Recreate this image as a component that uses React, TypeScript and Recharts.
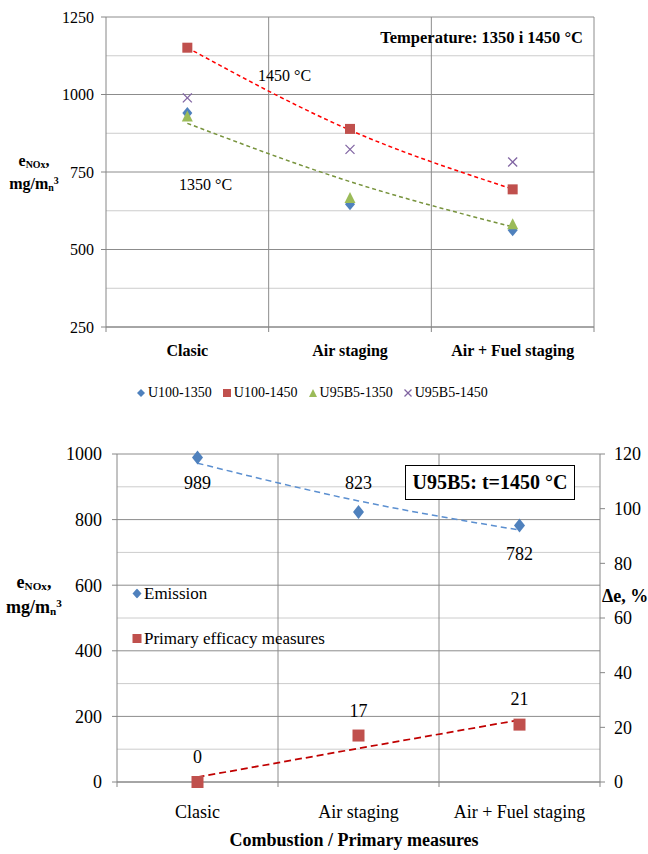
import React from "react";
import { ComposedChart, Line, XAxis, YAxis, CartesianGrid } from "recharts";

// categories and measured values
const CATEGORIES = ["Clasic", "Air staging", "Air + Fuel staging"];

// top chart: NOx emission, mg/mn3
const U100_1350 = [940, 646, 562];
const U100_1450 = [1151, 889, 694];
const U95B5_1350 = [931, 668, 583];
const U95B5_1450 = [989, 823, 782];
const TREND_1450 = [1151, 885, 695];
const TREND_1350 = [907, 719, 573];

// bottom chart: U95B5 at 1450 °C
const EMISSION = [989, 823, 782];
const EFFICACY = [0, 17, 21];
const EMISSION_TREND = [972, 857, 768];
const EFFICACY_TREND = [1.8, 12.3, 22.7];

const TOP_TICKS = [250, 500, 750, 1000, 1250];
const TOP_MINOR = [375, 625, 875, 1125];
const LEFT_TICKS = [0, 200, 400, 600, 800, 1000];
const LEFT_MINOR = [100, 300, 500, 700, 900];
const RIGHT_TICKS = [0, 20, 40, 60, 80, 100, 120];

const FONT = '"Liberation Serif", "Times New Roman", serif';
const AXIS = "#868686";
const GRID_MAJOR = "#8c8c8c";
const GRID_MINOR = "#cccccc";
const BLUE = "#4F81BD";
const RED = "#C0504D";
const GREEN = "#9BBB59";
const PURPLE = "#8064A2";

const X_TICKS = [0, 0.5, 1, 1.5, 2, 2.5, 3];

const topRows = CATEGORIES.map((c, i) => ({
  x: i + 0.5,
  u100_1350: U100_1350[i],
  u100_1450: U100_1450[i],
  u95_1350: U95B5_1350[i],
  u95_1450: U95B5_1450[i],
  t1450: TREND_1450[i],
  t1350: TREND_1350[i],
}));

const bottomRows = CATEGORIES.map((c, i) => ({
  x: i + 0.5,
  emission: EMISSION[i],
  efficacy: EFFICACY[i],
  emTrend: EMISSION_TREND[i],
  efTrend: EFFICACY_TREND[i],
}));

// label offsets (px) for the bottom data labels
const EMISSION_LABEL_DY = [25, -29, 28];
const EFFICACY_LABEL_DY = [-25, -25, -26];

const Diamond = ({ cx, cy, w = 10, h = 12, fill }: any) => (
  <path
    d={`M${cx},${cy - h / 2} L${cx + w / 2},${cy} L${cx},${cy + h / 2} L${cx - w / 2},${cy} Z`}
    fill={fill}
  />
);
const Square = ({ cx, cy, s = 10, fill }: any) => (
  <rect x={cx - s / 2} y={cy - s / 2} width={s} height={s} fill={fill} />
);
const Triangle = ({ cx, cy, s = 11, fill }: any) => (
  <path
    d={`M${cx},${cy - s / 2} L${cx + s / 2},${cy + s / 2} L${cx - s / 2},${cy + s / 2} Z`}
    fill={fill}
  />
);
const XMark = ({ cx, cy, s = 9, stroke }: any) => (
  <g stroke={stroke} strokeWidth={1.3}>
    <line x1={cx - s / 2} y1={cy - s / 2} x2={cx + s / 2} y2={cy + s / 2} />
    <line x1={cx - s / 2} y1={cy + s / 2} x2={cx + s / 2} y2={cy - s / 2} />
  </g>
);

const CatTick = (props: any) => {
  const { x, y, payload, bold, dy, fontSize } = props;
  const v = payload.value;
  if (Number.isInteger(v)) {
    return <line x1={x} x2={x} y1={y} y2={y + 5} stroke={AXIS} />;
  }
  return (
    <text
      x={x}
      y={y + dy}
      textAnchor="middle"
      dominantBaseline="central"
      fontFamily={FONT}
      fontSize={fontSize}
      fontWeight={bold ? 700 : 400}
      fill="#000"
    >
      {CATEGORIES[Math.floor(v)]}
    </text>
  );
};

const Label = ({ x, y, align = "left", style, children }: any) => {
  const tx = align === "center" ? "-50%" : align === "right" ? "-100%" : "0";
  return (
    <div
      style={{
        position: "absolute",
        left: x,
        top: y,
        transform: `translate(${tx}, -50%)`,
        whiteSpace: "nowrap",
        lineHeight: 1,
        fontFamily: FONT,
        color: "#000",
        ...style,
      }}
    >
      {children}
    </div>
  );
};

const AxisTitle = ({ x, y1, y2, size }: any) => {
  const sub = { fontSize: size * 0.62, verticalAlign: "-0.2em", lineHeight: 0 };
  const sup = { fontSize: size * 0.62, verticalAlign: "0.5em", lineHeight: 0 };
  return (
    <>
      <Label x={x} y={y1} align="center" style={{ fontWeight: 700, fontSize: size }}>
        e<span style={sub}>NOx</span>,
      </Label>
      <Label x={x} y={y2} align="center" style={{ fontWeight: 700, fontSize: size }}>
        mg/m<span style={sub}>n</span>
        <span style={sup}>3</span>
      </Label>
    </>
  );
};

const dotOf = (Shape: any, extra: any) => (p: any) =>
  <Shape key={`m-${p.index}`} cx={p.cx} cy={p.cy} {...extra} />;

const labelOf = (offsets: number[]) => (p: any) => (
  <text
    key={`l-${p.index}`}
    x={p.x}
    y={p.y + offsets[p.index]}
    textAnchor="middle"
    dominantBaseline="central"
    fontFamily={FONT}
    fontSize={18}
    fill="#000"
  >
    {p.value}
  </text>
);

const legendItem = (marker: React.ReactNode, text: string, fontSize: number) => (
  <span style={{ display: "inline-flex", alignItems: "center", fontSize }}>
    <svg width={10} height={10} style={{ marginRight: 2 }}>
      {marker}
    </svg>
    {text}
  </span>
);

export default function App() {
  return (
    <div
      style={{
        position: "absolute",
        left: 0,
        top: 0,
        width: 648,
        height: 854,
        background: "#fff",
        fontFamily: FONT,
      }}
    >
      {/* top chart */}
      <div style={{ position: "absolute", left: 0, top: 0 }}>
        <ComposedChart
          width={648}
          height={420}
          data={topRows}
          margin={{ top: 17, right: 54, bottom: 53, left: 0 }}
        >
          <CartesianGrid vertical={false} horizontalValues={TOP_MINOR} stroke={GRID_MINOR} />
          <CartesianGrid vertical={false} horizontalValues={TOP_TICKS} stroke={GRID_MAJOR} />
          <CartesianGrid horizontal={false} verticalValues={[1, 2, 3]} stroke={GRID_MAJOR} />
          <XAxis
            dataKey="x"
            type="number"
            domain={[0, 3]}
            ticks={X_TICKS}
            interval={0}
            tickSize={0}
            tickMargin={0}
            tickLine={false}
            axisLine={{ stroke: AXIS }}
            height={40}
            tick={(p: any) => <CatTick {...p} bold dy={23} fontSize={16} />}
          />
          <YAxis
            type="number"
            domain={[250, 1250]}
            ticks={TOP_TICKS}
            interval={0}
            width={106}
            tickSize={5}
            tickMargin={7}
            axisLine={{ stroke: AXIS }}
            tickLine={{ stroke: AXIS }}
            tick={{ fontSize: 16, fill: "#000", fontFamily: FONT }}
          />
          <Line
            dataKey="t1450"
            type="monotone"
            stroke="#FF0000"
            strokeWidth={1.5}
            strokeDasharray="4 3"
            dot={false}
            activeDot={false}
            isAnimationActive={false}
          />
          <Line
            dataKey="t1350"
            type="monotone"
            stroke="#77933C"
            strokeWidth={1.5}
            strokeDasharray="4 3"
            dot={false}
            activeDot={false}
            isAnimationActive={false}
          />
          <Line dataKey="u100_1350" stroke="none" dot={dotOf(Diamond, { fill: BLUE })} activeDot={false} isAnimationActive={false} />
          <Line dataKey="u100_1450" stroke="none" dot={dotOf(Square, { fill: RED })} activeDot={false} isAnimationActive={false} />
          <Line dataKey="u95_1350" stroke="none" dot={dotOf(Triangle, { fill: GREEN })} activeDot={false} isAnimationActive={false} />
          <Line dataKey="u95_1450" stroke="none" dot={dotOf(XMark, { stroke: PURPLE })} activeDot={false} isAnimationActive={false} />
        </ComposedChart>
      </div>

      <AxisTitle x={34} y1={161} y2={184} size={16} />
      <Label x={583} y={38} align="right" style={{ fontWeight: 700, fontSize: 16.5 }}>
        Temperature: 1350 i 1450 °C
      </Label>
      <Label x={258} y={76} style={{ fontSize: 16 }}>
        1450 °C
      </Label>
      <Label x={179} y={185} style={{ fontSize: 16 }}>
        1350 °C
      </Label>

      <div
        style={{
          position: "absolute",
          left: 136,
          top: 393,
          transform: "translateY(-50%)",
          display: "flex",
          gap: 10,
          whiteSpace: "nowrap",
          lineHeight: 1,
        }}
      >
        {legendItem(<Diamond cx={5} cy={5} w={8} h={8} fill={BLUE} />, "U100-1350", 14)}
        {legendItem(<Square cx={5} cy={5} s={8} fill={RED} />, "U100-1450", 14)}
        {legendItem(<Triangle cx={5} cy={5} s={8} fill={GREEN} />, "U95B5-1350", 14)}
        {legendItem(<XMark cx={5} cy={5} s={7} stroke={PURPLE} />, "U95B5-1450", 14)}
      </div>

      {/* bottom chart */}
      <div style={{ position: "absolute", left: 0, top: 430 }}>
        <ComposedChart
          width={648}
          height={424}
          data={bottomRows}
          margin={{ top: 24, right: 0, bottom: 32, left: 0 }}
        >
          <CartesianGrid vertical={false} horizontalValues={LEFT_MINOR} stroke={GRID_MINOR} />
          <CartesianGrid vertical={false} horizontalValues={LEFT_TICKS} stroke={GRID_MAJOR} />
          <CartesianGrid horizontal={false} verticalValues={[1, 2]} stroke={GRID_MAJOR} />
          <XAxis
            dataKey="x"
            type="number"
            domain={[0, 3]}
            ticks={X_TICKS}
            interval={0}
            tickSize={0}
            tickMargin={0}
            tickLine={false}
            axisLine={{ stroke: AXIS }}
            height={40}
            tick={(p: any) => <CatTick {...p} dy={30} fontSize={18} />}
          />
          <YAxis
            type="number"
            domain={[0, 1000]}
            ticks={LEFT_TICKS}
            interval={0}
            width={117}
            tickSize={5}
            tickMargin={10}
            axisLine={{ stroke: AXIS }}
            tickLine={{ stroke: AXIS }}
            tick={{ fontSize: 18, fill: "#000", fontFamily: FONT }}
          />
          <YAxis
            yAxisId="r"
            orientation="right"
            type="number"
            domain={[0, 120]}
            ticks={RIGHT_TICKS}
            interval={0}
            width={48}
            tickSize={5}
            tickMargin={9}
            axisLine={{ stroke: AXIS }}
            tickLine={{ stroke: AXIS }}
            tick={{ fontSize: 18, fill: "#000", fontFamily: FONT }}
          />
          <Line
            dataKey="emTrend"
            type="monotone"
            stroke="#5B8FD0"
            strokeWidth={1.5}
            strokeDasharray="6 4"
            dot={false}
            activeDot={false}
            isAnimationActive={false}
          />
          <Line
            dataKey="efTrend"
            yAxisId="r"
            type="linear"
            stroke="#C00000"
            strokeWidth={1.75}
            strokeDasharray="7 4"
            dot={false}
            activeDot={false}
            isAnimationActive={false}
          />
          <Line
            dataKey="emission"
            stroke="none"
            dot={dotOf(Diamond, { fill: BLUE, w: 11, h: 14 })}
            label={labelOf(EMISSION_LABEL_DY)}
            activeDot={false}
            isAnimationActive={false}
          />
          <Line
            dataKey="efficacy"
            yAxisId="r"
            stroke="none"
            dot={dotOf(Square, { fill: RED, s: 12 })}
            label={labelOf(EFFICACY_LABEL_DY)}
            activeDot={false}
            isAnimationActive={false}
          />
        </ComposedChart>
      </div>

      <div
        style={{
          position: "absolute",
          left: 405,
          top: 465,
          width: 170,
          height: 35,
          boxSizing: "border-box",
          border: "1.5px solid #000",
          background: "#fff",
          display: "flex",
          alignItems: "center",
          justifyContent: "center",
          fontWeight: 700,
          fontSize: 20,
          whiteSpace: "nowrap",
        }}
      >
        U95B5: t=1450 °C
      </div>

      <div style={{ position: "absolute", left: 132, top: 593, transform: "translateY(-50%)", lineHeight: 1 }}>
        {legendItem(<Diamond cx={5} cy={5} w={9} h={10} fill={BLUE} />, "Emission", 17)}
      </div>
      <div style={{ position: "absolute", left: 132, top: 638, transform: "translateY(-50%)", lineHeight: 1 }}>
        {legendItem(<Square cx={5} cy={5} s={9} fill={RED} />, "Primary efficacy measures", 17)}
      </div>

      <AxisTitle x={34} y1={582} y2={607} size={18} />
      <Label x={602} y={596} style={{ fontWeight: 700, fontSize: 18 }}>
        Δe, %
      </Label>
      <Label x={354} y={840} align="center" style={{ fontWeight: 700, fontSize: 18 }}>
        Combustion / Primary measures
      </Label>
    </div>
  );
}
